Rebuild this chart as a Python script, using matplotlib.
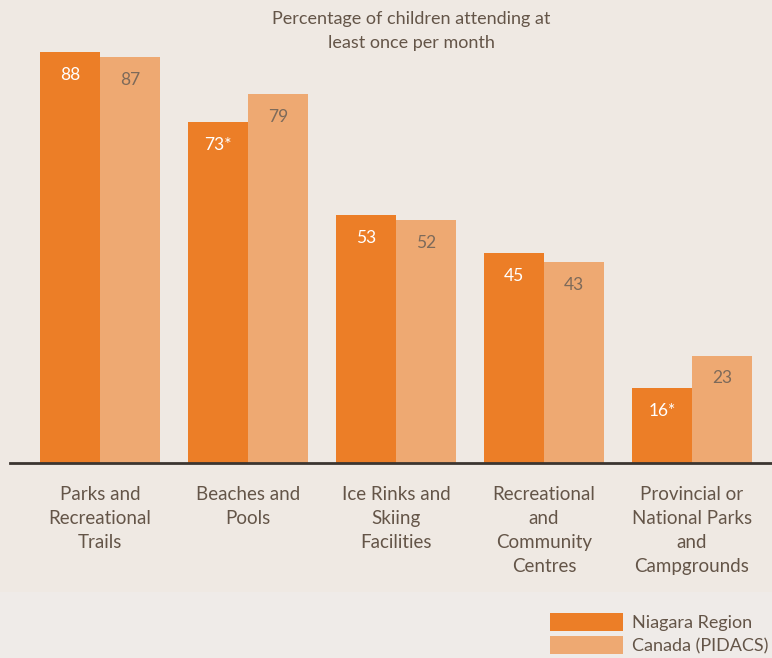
import matplotlib.pyplot as plt
import numpy as np

categories = ["Parks and\nRecreational\nTrails", "Beaches and\nPools",
              "Ice Rinks and\nSkiing\nFacilities", "Recreational\nand\nCommunity\nCentres",
              "Provincial or\nNational Parks\nand\nCampgrounds"]
niagara = [88, 73, 53, 45, 16]
niagara_labels = ["88", "73*", "53", "45", "16*"]
canada = [87, 79, 52, 43, 23]
canada_labels = ["87", "79", "52", "43", "23"]
series_names = ["Niagara Region", "Canada (PIDACS)"]
title = "Percentage of children attending at\nleast once per month"

bg = "#efe9e3"
bg_low = "#efebe8"
dark = "#ec7e27"
light = "#eea972"
textcol = "#645548"

plt.rcParams['font.family'] = ['Lato', 'DejaVu Sans']

W, H = 772, 658
fig = plt.figure(figsize=(W / 100, H / 100), dpi=100)
fig.patch.set_facecolor(bg)

# lighter band at the bottom of the page
fig.patches.append(plt.Rectangle((0, 0), 1, (H - 592) / H, transform=fig.transFigure,
                                 color=bg_low, linewidth=0, zorder=0))

# axes: left edge of baseline at px 10, baseline at px 463, top of figure
base_px = 463
ax = fig.add_axes([10 / W, (H - base_px) / H, 1 - 10 / W, base_px / H])
ax.set_facecolor("none")
ppu = 4.67
ax.set_ylim(0, base_px / ppu)
spacing = 148
ax.set_xlim((10 - 100) / spacing, (772 - 100) / spacing)

x = np.arange(len(categories))
w = 60 / spacing
ax.bar(x - w / 2, niagara, w, color=dark, linewidth=0)
ax.bar(x + w / 2, canada, w, color=light, linewidth=0)

for i in range(len(categories)):
    ax.text(x[i] - w / 2, niagara[i] - 4.9, niagara_labels[i], ha="center", va="center",
            color="white", fontsize=12.5)
    ax.text(x[i] + w / 2, canada[i] - 4.9, canada_labels[i], ha="center", va="center",
            color="#7d6a5a", fontsize=12.5)

for s in ["top", "right", "left"]:
    ax.spines[s].set_visible(False)
ax.spines["bottom"].set_color("#3b3530")
ax.spines["bottom"].set_linewidth(2)
ax.set_xticks([])
ax.set_yticks([])

# category labels below the baseline
for i, c in enumerate(categories):
    fig.text((100 + spacing * i) / W, (H - 486) / H, c, ha="center", va="top",
             color=textcol, fontsize=13.5, linespacing=1.5)

fig.text(411 / W, (H - 11) / H, title, ha="center", va="top", color=textcol,
         fontsize=13, linespacing=1.6)

# legend
fig.patches.append(plt.Rectangle((550 / W, (H - 631) / H), 73 / W, 18 / H,
                                 transform=fig.transFigure, color=dark, linewidth=0))
fig.patches.append(plt.Rectangle((550 / W, (H - 654) / H), 73 / W, 18 / H,
                                 transform=fig.transFigure, color=light, linewidth=0))
fig.text(632 / W, (H - 623) / H, series_names[0], ha="left", va="center", color=textcol, fontsize=13)
fig.text(632 / W, (H - 646) / H, series_names[1], ha="left", va="center", color=textcol, fontsize=13)

fig.savefig("out.png", dpi=100, facecolor=bg)
